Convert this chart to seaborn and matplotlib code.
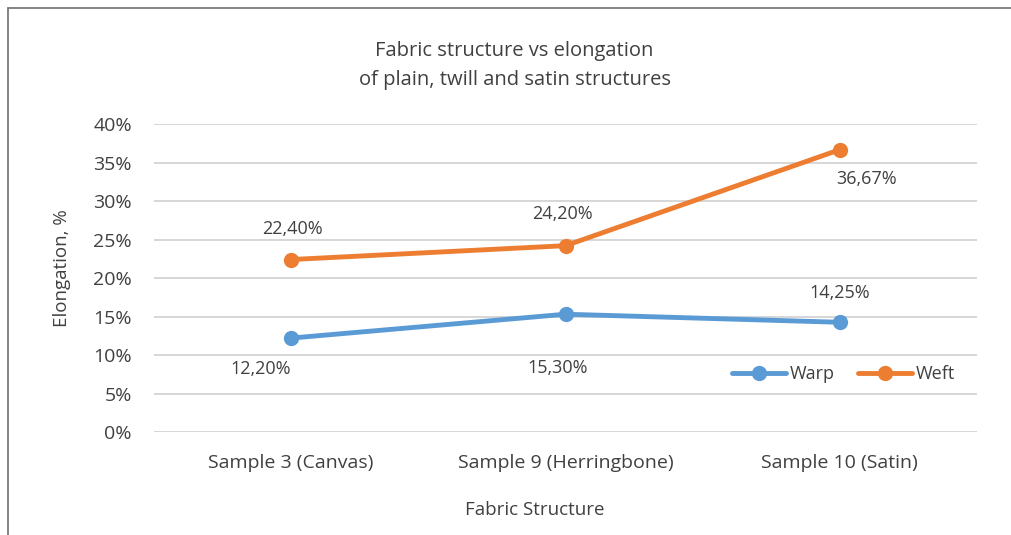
"""
Fabric structure vs elongation line chart
"""

import numpy as np
import pandas as pd
import matplotlib
matplotlib.use("Agg")
import matplotlib.pyplot as plt
from matplotlib.ticker import FuncFormatter
import seaborn as sns

# Data
samples = ["Sample 3 (Canvas)", "Sample 9 (Herringbone)", "Sample 10 (Satin)"]
warp = [12.20, 15.30, 14.25]
weft = [22.40, 24.20, 36.67]
series_names = ["Warp", "Weft"]
y_ticks = [0, 5, 10, 15, 20, 25, 30, 35, 40]

df = pd.DataFrame({
    "sample": samples * 2,
    "pos": list(range(len(samples))) * 2,
    "value": warp + weft,
    "series": [series_names[0]] * len(samples) + [series_names[1]] * len(samples),
})

sns.set_style("white")
plt.rcParams["font.family"] = ["Open Sans", "DejaVu Sans"]
text_color = "#404040"
palette = {"Warp": "#5B9BD5", "Weft": "#ED7D31"}

fig = plt.figure(figsize=(10.11, 5.35), dpi=100)
ax = fig.add_axes([0.1523, 0.1925, 0.8141, 0.5757])

sns.lineplot(
    data=df, x="pos", y="value", hue="series", palette=palette,
    marker="o", markersize=11, markeredgewidth=0, linewidth=3.5,
    ax=ax, zorder=3
)

ax.set_xlim(-0.5, len(samples) - 0.5)
ax.set_ylim(0, 40)
ax.set_yticks(y_ticks)
ax.yaxis.set_major_formatter(FuncFormatter(lambda v, _: f"{v:.0f}%"))
ax.set_xticks(range(len(samples)))
ax.set_xticklabels(samples)
ax.tick_params(axis="both", length=0, labelsize=14, colors=text_color)
ax.tick_params(axis="y", pad=16)
ax.tick_params(axis="x", pad=16)
ax.grid(axis="y", color="#D0D0D0", linewidth=1.2, zorder=0)
for side in ["top", "right", "left", "bottom"]:
    ax.spines[side].set_visible(False)

ax.set_xlabel("")
ax.set_ylabel("")
fig.text(0.529, 0.0467, "Fabric Structure", ha="center", va="center",
         fontsize=13.5, color=text_color)
fig.text(0.0613, 0.499, "Elongation, %", ha="center", va="center", rotation=90,
         fontsize=13.5, color=text_color)

# Data labels (offsets in points)
warp_offsets = [(-22, -22), (-6, -39), (0, 21)]
weft_offsets = [(1, 22), (-2, 23), (19, -21)]
for vals, offs in [(warp, warp_offsets), (weft, weft_offsets)]:
    for i, (v, o) in enumerate(zip(vals, offs)):
        ax.annotate(f"{v:.2f}%".replace(".", ","), (i, v), xytext=o,
                    textcoords="offset points", ha="center", va="center",
                    fontsize=13, color=text_color)

fig.text(0.509, 0.8785, "Fabric structure vs elongation\nof plain, twill and satin structures",
         ha="center", va="center", fontsize=14.5, color=text_color, linespacing=1.6)

leg = ax.legend(loc="center right", bbox_to_anchor=(0.973, 0.188), ncol=2, frameon=False,
                fontsize=13, handlelength=3.0, handletextpad=0.2, columnspacing=1.3,
                borderaxespad=0, borderpad=0)
for t in leg.get_texts():
    t.set_color(text_color)

# Chart border (top and left visible)
fig.add_artist(plt.Line2D([0.008, 1.0], [0.985, 0.985], transform=fig.transFigure,
                          color="#707070", linewidth=1.2))
fig.add_artist(plt.Line2D([0.008, 0.008], [0.0, 0.985], transform=fig.transFigure,
                          color="#707070", linewidth=1.2))

fig.savefig("out.png", dpi=100)
